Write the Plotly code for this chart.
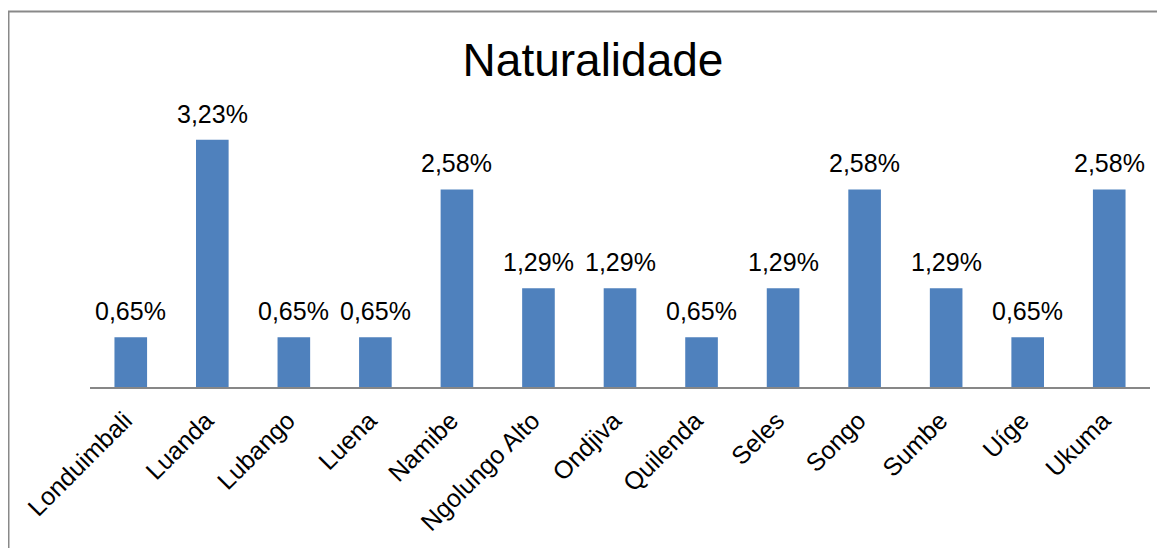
import plotly.graph_objects as go

categories = ["Londuimbali", "Luanda", "Lubango", "Luena", "Namibe", "Ngolungo Alto",
              "Ondjiva", "Quilenda", "Seles", "Songo", "Sumbe", "Uíge", "Ukuma"]
values = [0.65, 3.23, 0.65, 0.65, 2.58, 1.29, 1.29, 0.65, 1.29, 2.58, 1.29, 0.65, 2.58]
labels = [f"{v:.2f}%".replace(".", ",") for v in values]

FONT = "Liberation Sans, Arial, sans-serif"

fig = go.Figure()
fig.add_trace(go.Bar(
    x=categories, y=values,
    marker=dict(color="#4F81BD", line=dict(width=0)),
    width=0.4,
    hoverinfo="skip",
))

for c, v, t in zip(categories, values, labels):
    fig.add_annotation(x=c, y=v, text=t, showarrow=False, yanchor="bottom",
                       yshift=10, font=dict(family=FONT, size=25, color="#000000"))

# chart border (outer frame)
fig.add_shape(type="rect", xref="paper", yref="paper",
              x0=(0.5 - 82) / 1060, x1=1.04, y0=-0.7, y1=(379 - 3.5) / 268,
              line=dict(color="#898989", width=2), fillcolor="rgba(0,0,0,0)")

fig.update_layout(
    width=1165, height=548,
    margin=dict(l=82, r=23, t=111, b=169, autoexpand=False),
    paper_bgcolor="white", plot_bgcolor="white",
    showlegend=False,
    title=dict(text="Naturalidade", x=585/1165, xref="container", xanchor="center",
               y=1 - 52/548, yref="container", yanchor="middle",
               font=dict(family=FONT, size=46, color="#000000")),
    xaxis=dict(showline=True, linecolor="#878787", linewidth=2, ticks="",
               tickangle=-45, tickfont=dict(family=FONT, size=25, color="#000000"),
               ticklabelstandoff=7, ticklabelshift=-6,
               showgrid=False, zeroline=False, automargin=False),
    yaxis=dict(range=[0, 3.5], visible=False, showgrid=False, zeroline=False,
               automargin=False),
    bargap=0.6,
)

fig.write_html("out.html")
